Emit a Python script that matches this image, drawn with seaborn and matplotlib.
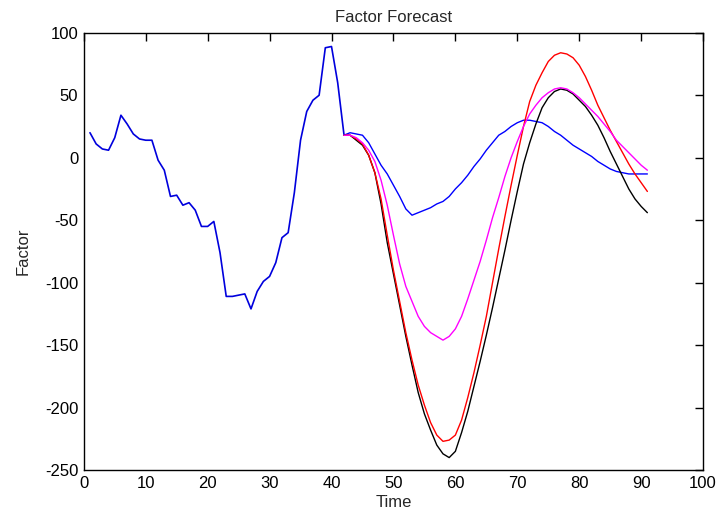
import numpy as np
import pandas as pd
import matplotlib
matplotlib.use("Agg")
import matplotlib.pyplot as plt
import seaborn as sns

# -------------------------------
# Data
# -------------------------------

hist_time = list(range(1, 43))
hist_factor = [20, 11, 7, 6, 16, 34, 27, 19, 15, 14,
               14, -2, -10, -31, -30, -38, -36, -42, -55, -55,
               -51, -76, -111, -111, -110, -109, -121, -107, -99, -95,
               -84, -64, -60, -28, 14, 37, 46, 50, 88, 89,
               60, 19]

fc_time = list(range(42, 92))

fc_blue = [18, 20, 19, 18, 12, 3, -6, -13, -22, -31,
           -41, -46, -44, -42, -40, -37, -35, -31, -25, -20,
           -14, -7, -1, 6, 12, 18, 21, 25, 28, 30,
           30, 29, 28, 25, 21, 18, 14, 10, 7, 4,
           1, -3, -6, -9, -11, -12, -13, -13, -13, -13]

fc_black = [18, 18, 14, 10, 2, -12, -37, -68, -93, -118,
            -143, -166, -188, -205, -218, -230, -237, -240, -235, -220,
            -203, -183, -163, -142, -120, -97, -74, -50, -27, -5,
            12, 27, 40, 48, 53, 55, 54, 51, 46, 41,
            34, 26, 16, 5, -5, -15, -25, -33, -39, -44]

fc_red = [18, 18, 15, 11, 2, -12, -33, -62, -90, -115,
          -140, -162, -182, -198, -212, -222, -227, -226, -222, -210,
          -192, -172, -150, -127, -100, -73, -47, -22, 2, 25,
          45, 58, 68, 77, 82, 84, 83, 80, 74, 65,
          54, 42, 32, 22, 13, 4, -5, -13, -20, -27]

fc_magenta = [18, 18, 16, 12, 6, -3, -18, -38, -62, -85,
              -103, -115, -127, -135, -140, -143, -146, -143, -137, -127,
              -113, -98, -83, -66, -48, -32, -15, 0, 13, 25,
              35, 42, 48, 52, 55, 56, 55, 52, 48, 43,
              38, 33, 27, 21, 14, 9, 4, -1, -6, -10]

hist_df = pd.DataFrame({"Time": hist_time, "Factor": hist_factor})
fc_df = pd.DataFrame({
    "Time": fc_time * 4,
    "Factor": fc_blue + fc_black + fc_red + fc_magenta,
    "Series": ["blue"] * 50 + ["black"] * 50 + ["red"] * 50 + ["magenta"] * 50,
})

# -------------------------------
# Plot
# -------------------------------

sns.set_style("white")
plt.rcParams["font.family"] = ["Liberation Sans", "DejaVu Sans"]
plt.rcParams["axes.unicode_minus"] = False

fig = plt.figure(figsize=(7.16, 5.2), dpi=100)
ax = fig.add_axes([0.117, 0.096, 0.865, 0.841])

palette = {"blue": "#0000ff", "black": "#000000", "red": "#ff0000", "magenta": "#ff00ff"}
sns.lineplot(data=fc_df, x="Time", y="Factor", hue="Series", palette=palette,
             hue_order=["blue", "black", "red", "magenta"],
             linewidth=1.0, legend=False, ax=ax)
sns.lineplot(data=hist_df, x="Time", y="Factor", color="#0000dd",
             linewidth=1.2, ax=ax)

ax.set_xlim(0, 100)
ax.set_ylim(-250, 100)
ax.set_xticks(range(0, 101, 10))
ax.set_yticks(range(-250, 101, 50))
ax.tick_params(direction="in", length=6, width=1, top=True, right=True,
               labelsize=12, colors="black", pad=4)
for s in ax.spines.values():
    s.set_color("black")
    s.set_linewidth(1)

ax.set_title("Factor Forecast", fontsize=12, pad=8)
ax.set_xlabel("Time", fontsize=12, labelpad=3)
ax.set_ylabel("Factor", fontsize=12, labelpad=10)

plt.savefig("out.png", dpi=100)
